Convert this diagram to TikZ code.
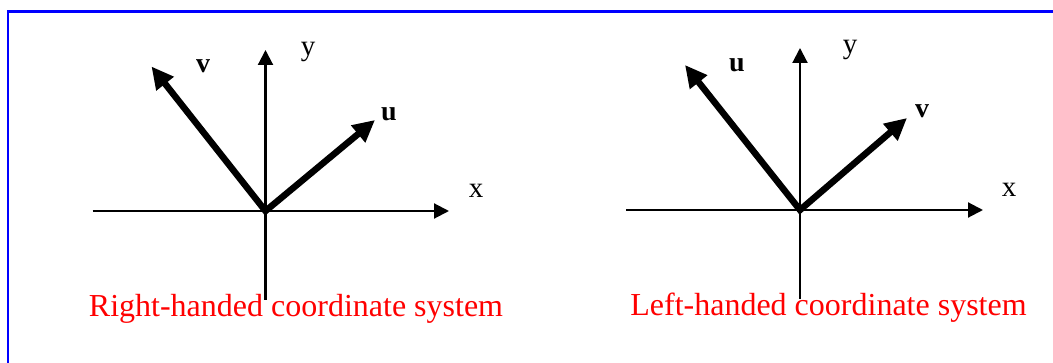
\documentclass[tikz,border=0pt]{standalone}
\usepackage{fontspec}
\setmainfont{Liberation Serif}
\usetikzlibrary{arrows.meta,positioning}

\begin{document}
\begin{tikzpicture}[
    x=1pt,y=-1pt,
    axis/.style={-{Triangle[length=15pt,width=15pt]},line width=2.1pt},
    vecpair/.style={{Triangle[length=22pt,width=21pt]}-{Triangle[length=22pt,width=21pt]},
                    line width=6.5pt,line join=miter},
    axlbl/.style={font=\fontsize{29}{34}\selectfont,inner sep=0pt,anchor=base},
    veclbl/.style={font=\fontsize{28}{32}\selectfont\bfseries,inner sep=0pt,anchor=base},
    caption/.style={font=\fontsize{32}{38}\selectfont,text=red,inner sep=0pt,anchor=base},
    frame/.style={draw=blue,line width=2.2pt}
]
\useasboundingbox (0,0) rectangle (1053,363);
% frame, cut at the right and bottom
\coordinate (fbl) at (8,363);
\coordinate (ftl) at (8,11.5);
\coordinate (ftr) at (1053,11.5);
\draw[frame] (fbl) -- (ftl) -- (ftr);

% right-handed system
\coordinate (ro) at (265.5,211);
\coordinate (rxl) at (92.5,211);
\coordinate (rxr) at (449,211);
\coordinate (ryb) at (265.5,300);
\coordinate (ryt) at (265.5,50);
\coordinate (rv) at (151.5,66.5);
\coordinate (ru) at (375,120);
\draw[axis] (rxl) -- (rxr);
\draw[axis] (ryb) -- (ryt);
\draw[vecpair] (rv) -- (ro) -- (ru);
\node[axlbl] (rxlbl) at (476,198) {x};
\node[axlbl] (rylbl) at (308,56) {y};
\node[veclbl] (rvlbl) at (203,73) {v};
\node[veclbl] (rulbl) at (389,121) {u};
\node[caption] (rcap) at (296,317) {Right-handed coordinate system};

% left-handed system
\coordinate (lo) at (800,210);
\coordinate (lxl) at (626,210);
\coordinate (lxr) at (983,210);
\coordinate (lyb) at (800,299);
\coordinate (lyt) at (800,48);
\coordinate (lu) at (685,65);
\coordinate (lv) at (907,118);
\draw[axis] (lxl) -- (lxr);
\draw[axis] (lyb) -- (lyt);
\draw[vecpair] (lu) -- (lo) -- (lv);
\node[axlbl] (lxlbl) at (1009,197) {x};
\node[axlbl] (lylbl) at (850,54) {y};
\node[veclbl] (lulbl) at (737,72) {u};
\node[veclbl] (lvlbl) at (922,118) {v};
\node[caption] (lcap) at (828.5,316) {Left-handed coordinate system};
\end{tikzpicture}
\end{document}
